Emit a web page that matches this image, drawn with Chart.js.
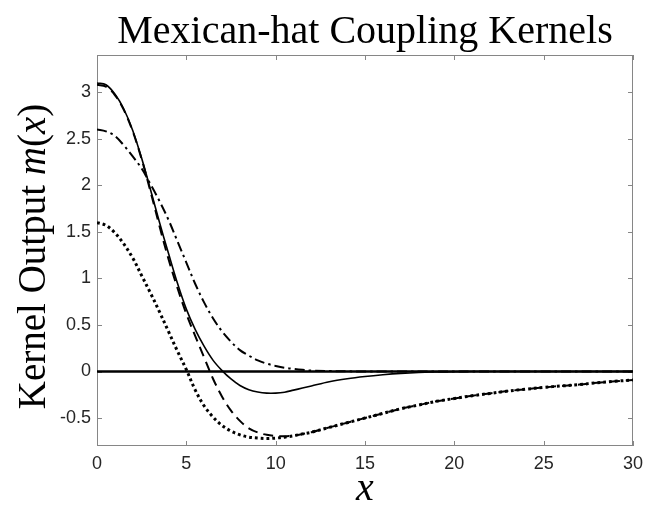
<!DOCTYPE html>
<html>
<head>
<meta charset="utf-8">
<title>Mexican-hat Coupling Kernels</title>
<script src="https://cdn.jsdelivr.net/npm/chart.js@4.4.1/dist/chart.umd.min.js"></script>
<style>
  html, body { margin: 0; padding: 0; background: #fff; }
</style>
</head>
<body>
<canvas id="kernelChart" width="657" height="508"></canvas>
<script>
// sample positions along x (denser where the kernels bend)
const xValues = [0, 0.5, 1, 1.5, 2, 2.5, 3, 3.5, 4, 4.5, 5, 5.5, 6, 6.5, 7, 7.5, 8, 8.5, 9, 9.5, 10, 10.5, 11, 11.5, 12,
  13, 14, 15, 16, 17, 18, 19, 20, 21, 22, 23, 24, 25, 26, 27, 28, 29, 30];

// solid kernel
const solidKernel = [3.10, 3.08, 2.98, 2.82, 2.59, 2.29, 1.95, 1.60, 1.27, 0.95, 0.67, 0.45, 0.27, 0.12, 0.01, -0.08, -0.15, -0.195, -0.22, -0.232, -0.232, -0.222, -0.20, -0.178, -0.155,
  -0.11, -0.078, -0.054, -0.035, -0.02, -0.01, -0.005, -0.002, 0, 0, 0, 0, 0, 0, 0, 0, 0, 0];

// dashed kernel
const dashedKernel = [3.08, 3.06, 2.97, 2.81, 2.58, 2.28, 1.93, 1.56, 1.21, 0.90, 0.62, 0.38, 0.15, -0.08, -0.27, -0.42, -0.53, -0.61, -0.655, -0.68, -0.692, -0.695, -0.688, -0.672, -0.652,
  -0.60, -0.55, -0.50, -0.45, -0.40, -0.36, -0.32, -0.29, -0.26, -0.235, -0.21, -0.19, -0.17, -0.155, -0.14, -0.12, -0.105, -0.09];

// dash-dot kernel
const dashDotKernel = [2.60, 2.58, 2.53, 2.43, 2.31, 2.18, 2.01, 1.83, 1.63, 1.40, 1.17, 0.94, 0.74, 0.57, 0.43, 0.32, 0.23, 0.17, 0.12, 0.085, 0.06, 0.04, 0.028, 0.018, 0.01,
  0.005, 0.002, 0, 0, 0, 0, 0, 0, 0, 0, 0, 0, 0, 0, 0, 0, 0, 0];

// dotted kernel
const dottedKernel = [1.60, 1.57, 1.49, 1.37, 1.22, 1.03, 0.84, 0.64, 0.43, 0.22, 0.02, -0.20, -0.37, -0.49, -0.58, -0.64, -0.68, -0.705, -0.715, -0.72, -0.715, -0.705, -0.69, -0.67, -0.652,
  -0.60, -0.55, -0.50, -0.45, -0.40, -0.36, -0.32, -0.29, -0.26, -0.235, -0.21, -0.19, -0.17, -0.155, -0.14, -0.12, -0.105, -0.09];

// reference line at zero
const zeroLineX = [0, 30];
const zeroLineY = [0, 0];

const xTickStep = 5;
const yTickStep = 0.5;

const serif = "'Liberation Serif', 'Times New Roman', serif";
const sans = "'Liberation Sans', Arial, Helvetica, sans-serif";

function toPoints(xs, ys) {
    return xs.map((x, i) => ({ x: x, y: ys[i] }));
}

// MATLAB style box with inward ticks on all four sides
const boxPlugin = {
    id: 'matlabBox',
    beforeDatasetsDraw(chart) {
        const { ctx, chartArea: a, scales } = chart;
        const len = 5;
        ctx.save();
        ctx.strokeStyle = '#868686';
        ctx.lineWidth = 1;
        ctx.strokeRect(a.left + 0.5, a.top + 0.5, a.right - a.left - 1, a.bottom - a.top - 1);
        ctx.beginPath();
        scales.x.ticks.forEach(t => {
            const px = Math.round(scales.x.getPixelForValue(t.value)) + 0.5;
            ctx.moveTo(px, a.bottom);
            ctx.lineTo(px, a.bottom - len);
            ctx.moveTo(px, a.top);
            ctx.lineTo(px, a.top + len);
        });
        scales.y.ticks.forEach(t => {
            const py = Math.round(scales.y.getPixelForValue(t.value)) + 0.5;
            ctx.moveTo(a.left, py);
            ctx.lineTo(a.left + len, py);
            ctx.moveTo(a.right, py);
            ctx.lineTo(a.right - len, py);
        });
        ctx.stroke();
        ctx.restore();
    }
};

// y axis title with the math part in italics
const yLabelPlugin = {
    id: 'yLabel',
    afterDraw(chart) {
        const { ctx, chartArea: a } = chart;
        const parts = [
            ['Kernel Output ', 'normal'],
            ['m', 'italic'],
            ['(', 'normal'],
            ['x', 'italic'],
            [')', 'normal']
        ];
        ctx.save();
        ctx.fillStyle = '#000';
        ctx.textBaseline = 'alphabetic';
        ctx.textAlign = 'left';
        let total = 0;
        const widths = parts.map(p => {
            ctx.font = p[1] + ' 39px ' + serif;
            const w = ctx.measureText(p[0]).width;
            total += w;
            return w;
        });
        ctx.translate(45, (a.top + a.bottom) / 2 + 6);
        ctx.rotate(-Math.PI / 2);
        let pos = -total / 2;
        parts.forEach((p, i) => {
            ctx.font = p[1] + ' 39px ' + serif;
            ctx.fillText(p[0], pos, 0);
            pos += widths[i];
        });
        ctx.restore();
    }
};

const ctx = document.getElementById('kernelChart').getContext('2d');

new Chart(ctx, {
    type: 'line',
    data: {
        datasets: [
            {
                label: 'zero',
                data: toPoints(zeroLineX, zeroLineY),
                borderColor: '#000',
                borderWidth: 2.4
            },
            {
                label: 'solid',
                data: toPoints(xValues, solidKernel),
                borderColor: '#000',
                borderWidth: 1.6
            },
            {
                label: 'dashed',
                data: toPoints(xValues, dashedKernel),
                borderColor: '#000',
                borderWidth: 2,
                borderDash: [10, 6]
            },
            {
                label: 'dash-dot',
                data: toPoints(xValues, dashDotKernel),
                borderColor: '#000',
                borderWidth: 2,
                borderDash: [10, 4, 2.5, 4]
            },
            {
                label: 'dotted',
                data: toPoints(xValues, dottedKernel),
                borderColor: '#000',
                borderWidth: 3,
                borderDash: [2.8, 3]
            }
        ]
    },
    options: {
        responsive: false,
        animation: false,
        elements: {
            point: { radius: 0 },
            line: { tension: 0.35, fill: false, borderCapStyle: 'butt' }
        },
        layout: {
            padding: { left: 57, right: 24, top: 0, bottom: 0 }
        },
        plugins: {
            legend: { display: false },
            tooltip: { enabled: false },
            title: {
                display: true,
                fullSize: false,
                text: 'Mexican-hat Coupling Kernels',
                color: '#000',
                font: { family: serif, size: 40, weight: 'normal', lineHeight: 1 },
                padding: { top: 12.5, bottom: 2.5 }
            }
        },
        scales: {
            x: {
                type: 'linear',
                min: 0,
                max: 30,
                border: { display: false },
                grid: { display: false, drawTicks: false },
                ticks: {
                    stepSize: xTickStep,
                    color: '#262626',
                    font: { family: sans, size: 18 },
                    padding: 7,
                    maxRotation: 0,
                    callback: value => String(value)
                },
                title: {
                    display: true,
                    text: 'x',
                    color: '#000',
                    font: { family: serif, size: 40, style: 'italic', lineHeight: 0.9 },
                    padding: { top: 0, bottom: 0.5 }
                },
                afterFit: scale => { scale.height = 62; }
            },
            y: {
                type: 'linear',
                min: -0.8,
                max: 3.4,
                border: { display: false },
                grid: { display: false, drawTicks: false },
                ticks: {
                    stepSize: yTickStep,
                    includeBounds: false,
                    color: '#262626',
                    font: { family: sans, size: 18 },
                    padding: 6,
                    callback: value => String(+value.toFixed(1))
                },
                afterFit: scale => { scale.width = 40; }
            }
        }
    },
    plugins: [boxPlugin, yLabelPlugin]
});
</script>
</body>
</html>
